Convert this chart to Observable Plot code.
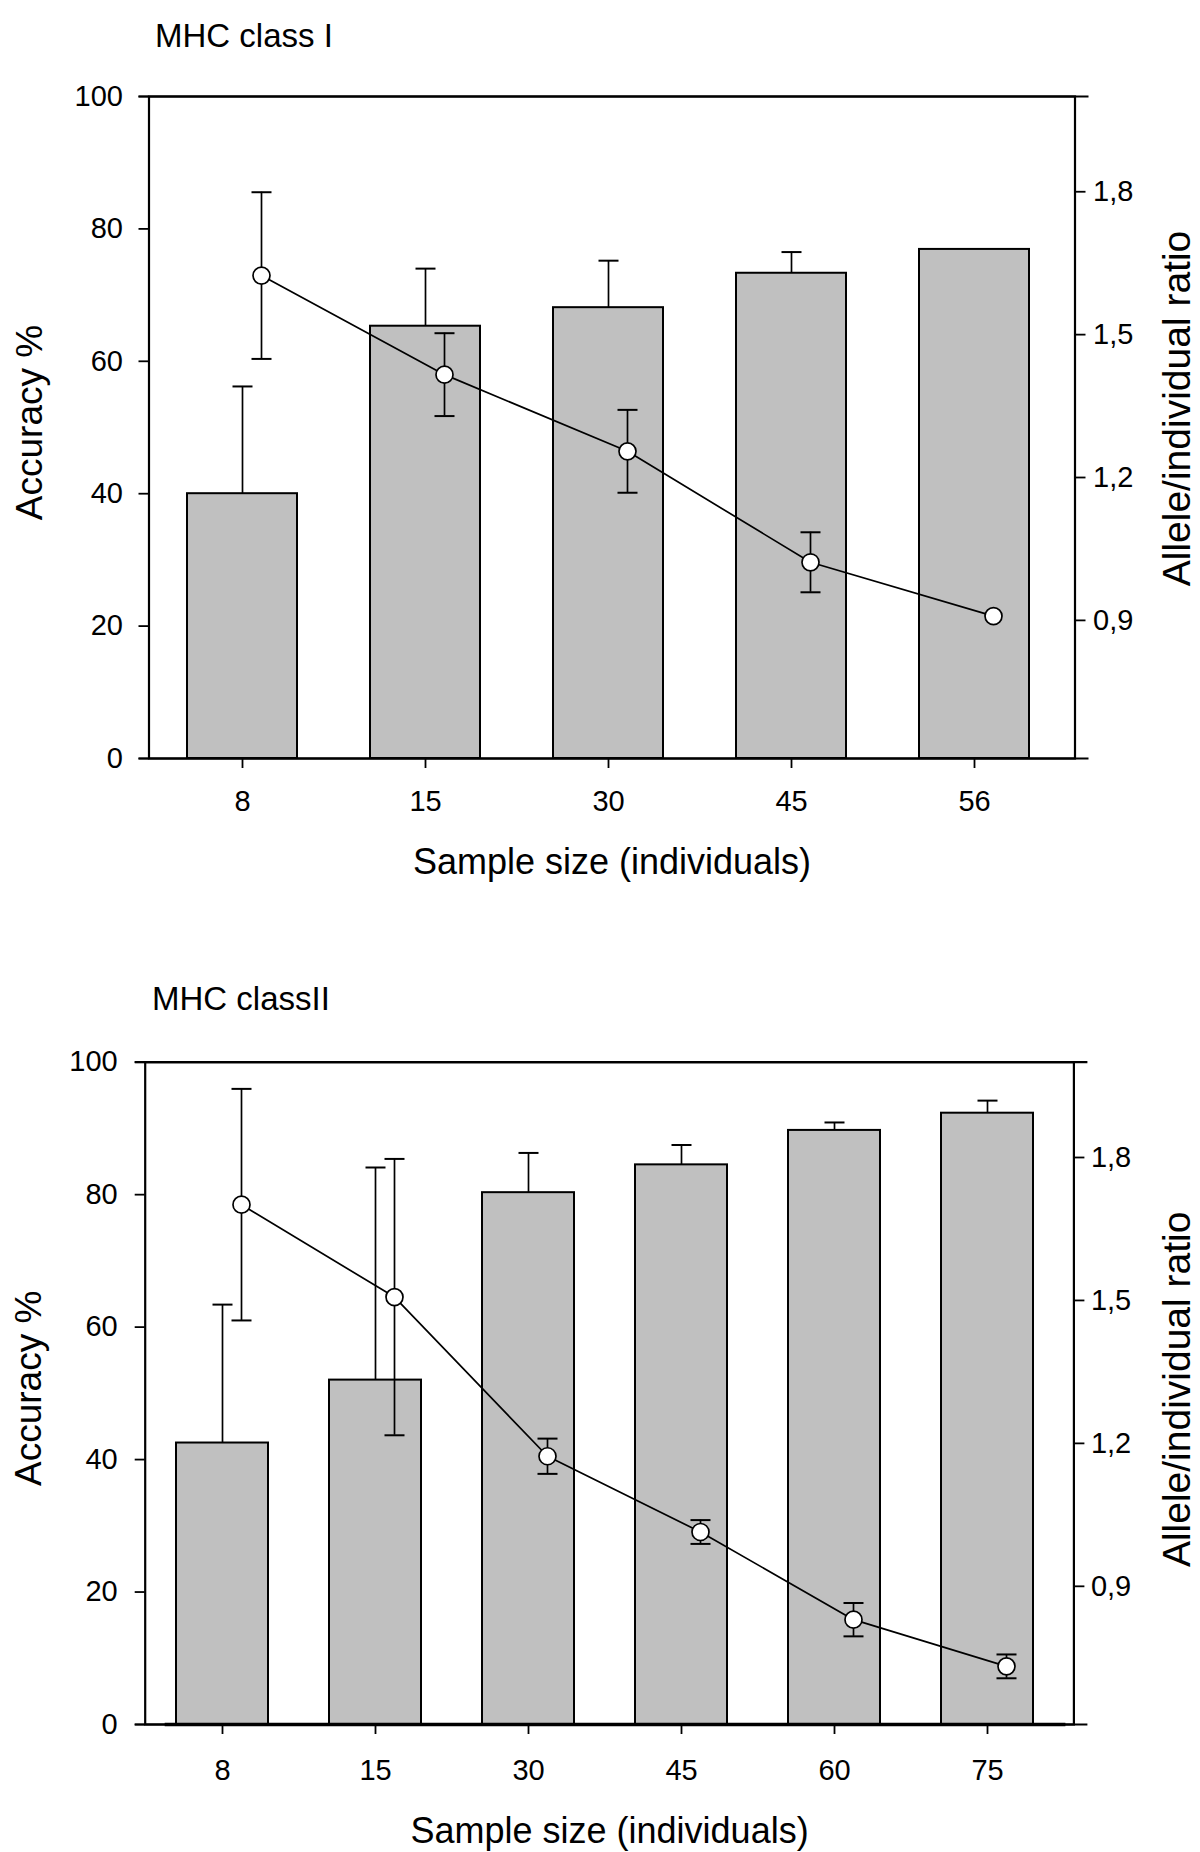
<!DOCTYPE html>
<html><head><meta charset="utf-8">
<script src="https://cdn.jsdelivr.net/npm/d3@7"></script>
<script src="https://cdn.jsdelivr.net/npm/@observablehq/plot@0.6"></script>
<style>
body{margin:0;background:#fff;font-family:"Liberation Sans",Arial,sans-serif;}
.panel{position:absolute;left:0;width:1200px;}
.panel svg{position:absolute;left:0;top:0;}
.title{position:absolute;font-size:33px;line-height:1;white-space:nowrap;color:#000;z-index:2;}
</style></head><body>
<div id="p1" class="panel" style="top:0;height:926px"><div class="title" style="left:155px;top:19px">MHC class I</div></div>
<div id="p2" class="panel" style="top:950px;height:902px"><div class="title" style="left:152px;top:32px">MHC classII</div></div>
<script>
// ---- data: MHC class I ----
const sizesI = ["8", "15", "30", "45", "56"];
const accuracyI = [40.0, 65.3, 68.1, 73.3, 76.9];
const accuracyErrI = [16.2, 8.7, 7.1, 3.2, 0];
const ratioI = [1.624, 1.416, 1.255, 1.022, 0.909];
const ratioErrI = [0.175, 0.087, 0.087, 0.063, 0];

// ---- data: MHC class II ----
const sizesII = ["8", "15", "30", "45", "60", "75"];
const accuracyII = [42.5, 52.0, 80.3, 84.5, 89.7, 92.3];
const accuracyErrII = [20.9, 32.1, 6.0, 3.0, 1.2, 1.9];
const ratioII = [1.701, 1.507, 1.173, 1.014, 0.830, 0.732];
const ratioErrII = [0.243, 0.290, 0.037, 0.025, 0.035, 0.025];

// ---- axis ticks & labels ----
const accTicks = [0, 20, 40, 60, 80, 100];
const ratioTicks = [0.9, 1.2, 1.5, 1.8];
const accDomain = [0, 100];
const ratioDomain = [0.61, 2.0];
const xTitle = "Sample size (individuals)";
const yLeftTitle = "Accuracy %";
const yRightTitle = "Allele/individual ratio";

const FONT = "'Liberation Sans', Arial, sans-serif";
const hcap = {draw(ctx) { ctx.moveTo(-10, 0); ctx.lineTo(10, 0); }};

function panel(el, cfg) {
  const rows = cfg.sizes.map((s, i) => ({size: s, acc: cfg.acc[i], err: cfg.accErr[i], ratio: cfg.ratio[i], rerr: cfg.ratioErr[i]}));
  const withErr = rows.filter(d => d.err > 0);
  const withRErr = rows.filter(d => d.rerr > 0);
  const common = {
    width: 1200, height: cfg.height,
    marginTop: cfg.mt, marginBottom: cfg.mb, marginLeft: cfg.ml, marginRight: cfg.mr,
    style: {fontFamily: FONT, fontSize: "28px", color: "black", background: "transparent", overflow: "visible"}
  };
  const xScale = {type: "band", domain: cfg.sizes, paddingInner: 0.4, paddingOuter: cfg.po, align: cfg.align};
  const bars = Plot.plot({
    ...common,
    x: xScale,
    y: {domain: accDomain},
    marks: [
      Plot.barY(rows, {x: "size", y: "acc", fill: "#c0c0c0", stroke: "black", strokeWidth: 2}),
      Plot.ruleX(withErr, {x: "size", y1: "acc", y2: d => d.acc + d.err, stroke: "black", strokeWidth: 1.7}),
      Plot.dot(withErr, {x: "size", y: d => d.acc + d.err, symbol: hcap, fill: "none", stroke: "black", strokeWidth: 2}),
      Plot.frame({stroke: "black", strokeWidth: 2.2}),
      Plot.ruleY([accDomain[0], accDomain[1]], {stroke: "black", strokeWidth: 2.2, insetLeft: -10, insetRight: -14}),
      ...(cfg.thickBase ? [Plot.ruleY([0], {stroke: "black", strokeWidth: 3.5, insetLeft: 20, insetRight: 8})] : []),
      Plot.axisY({ticks: accTicks, tickSize: 10, tickPadding: cfg.lpad, label: null, fontSize: 29, strokeWidth: 1.8}),
      Plot.axisX({tickSize: 10, tickPadding: cfg.xpad, label: null, fontSize: 29, strokeWidth: 1.8}),
      Plot.text([xTitle], {frameAnchor: "bottom", lineAnchor: "middle", textAnchor: "middle", dy: cfg.xtdy, fontSize: 36}),
      Plot.text([yLeftTitle], {frameAnchor: "left", lineAnchor: "middle", textAnchor: "middle", dx: cfg.ltdx, dy: -5, rotate: -90, fontSize: 37})
    ]
  });
  const lines = Plot.plot({
    ...common,
    x: {...xScale, axis: null},
    y: {domain: ratioDomain, axis: null},
    marks: [
      Plot.ruleX(withRErr, {x: "size", y1: d => d.ratio - d.rerr, y2: d => d.ratio + d.rerr, dx: 19, stroke: "black", strokeWidth: 1.7}),
      Plot.dot(withRErr, {x: "size", y: d => d.ratio + d.rerr, dx: 19, symbol: hcap, fill: "none", stroke: "black", strokeWidth: 2}),
      Plot.dot(withRErr, {x: "size", y: d => d.ratio - d.rerr, dx: 19, symbol: hcap, fill: "none", stroke: "black", strokeWidth: 2}),
      Plot.line(rows, {x: "size", y: "ratio", dx: 19, stroke: "black", strokeWidth: 1.7}),
      Plot.dot(rows, {x: "size", y: "ratio", dx: 19, r: 8.5, fill: "white", stroke: "black", strokeWidth: 1.7}),
      Plot.axisY({anchor: "right", ticks: ratioTicks, tickFormat: d => d.toFixed(1).replace(".", ","), tickSize: 10, tickPadding: cfg.rpad, label: null, fontSize: 29, strokeWidth: 1.8}),
      Plot.text([yRightTitle], {frameAnchor: "right", lineAnchor: "middle", textAnchor: "middle", dx: cfg.rtdx, dy: cfg.rtdy, rotate: -90, fontSize: 39})
    ]
  });
  el.appendChild(bars);
  el.appendChild(lines);
}

panel(document.getElementById("p1"), {
  sizes: sizesI, acc: accuracyI, accErr: accuracyErrI, ratio: ratioI, ratioErr: ratioErrI,
  height: 926, mt: 96, mb: 168, ml: 148.5, mr: 125.5, po: 0.2165, align: 0.46,
  lpad: 16, rpad: 8, xpad: 22, xtdy: 104, ltdx: -118.5, rtdx: 103, rtdy: -19, thickBase: false
});
panel(document.getElementById("p2"), {
  sizes: sizesII, acc: accuracyII, accErr: accuracyErrII, ratio: ratioII, ratioErr: ratioErrII,
  height: 902, mt: 111.7, mb: 128, ml: 144.7, mr: 126.6, po: 0.227, align: 0.44,
  lpad: 17.5, rpad: 7, xpad: 24.7, xtdy: 107, ltdx: -115.7, rtdx: 104, rtdy: -4, thickBase: true
});
</script>
</body></html>
